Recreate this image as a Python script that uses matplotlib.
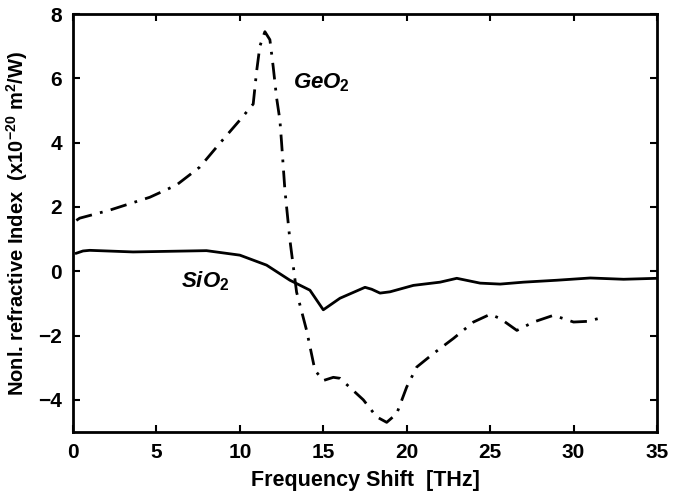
import matplotlib
matplotlib.use('AGG')
import matplotlib.pyplot as plt

# GeO2 (dash-dot)
geo2_x = [0.2, 0.4, 2.2, 4.6, 6.2, 7.6, 8.8, 10.0, 10.8, 11.0, 11.2, 11.5, 11.8, 12.0,
          12.2, 12.4, 12.5, 12.7, 13.0, 13.4, 14.0, 14.5, 15.0, 15.6, 16.0, 17.4, 18.2,
          18.8, 19.4, 20.0, 20.6, 21.6, 22.8, 24.0, 25.0, 25.6, 26.6, 27.6, 28.8, 30.0,
          30.8, 31.5]
geo2_y = [1.58, 1.65, 1.9, 2.3, 2.68, 3.24, 3.98, 4.7, 5.2, 6.2, 7.0, 7.45, 7.2, 6.35,
          5.4, 4.7, 4.0, 2.52, 0.97, -0.65, -1.84, -3.08, -3.4, -3.3, -3.33, -4.0, -4.53,
          -4.7, -4.43, -3.6, -2.98, -2.56, -2.09, -1.58, -1.34, -1.47, -1.84, -1.58, -1.37,
          -1.58, -1.56, -1.47]

# SiO2 (solid)
sio2_x = [0.2, 0.6, 1.0, 3.6, 8.0, 10.0, 11.6, 13.0, 14.2, 15.0, 16.0, 17.5, 17.9, 18.4,
          19.0, 20.4, 22.0, 23.0, 24.4, 25.6, 27.0, 29.0, 31.0, 33.0, 35.0]
sio2_y = [0.56, 0.63, 0.65, 0.6, 0.64, 0.5, 0.19, -0.28, -0.59, -1.2, -0.84, -0.5, -0.56,
          -0.68, -0.64, -0.44, -0.34, -0.22, -0.37, -0.4, -0.34, -0.28, -0.21, -0.25, -0.22]

plt.rcParams['font.family'] = ['Liberation Sans', 'DejaVu Sans']
plt.rcParams['mathtext.fontset'] = 'custom'
plt.rcParams['mathtext.rm'] = 'Liberation Sans:bold'
plt.rcParams['mathtext.it'] = 'Liberation Sans:bold:italic'
plt.rcParams['mathtext.bf'] = 'Liberation Sans:bold'

fig = plt.figure(figsize=(6.81, 4.97), dpi=100)
ax = fig.add_axes([73/681, 1-432/497, (657-73)/681, (432-14)/497])

ax.plot(sio2_x, sio2_y, color='black', lw=2)
ax.plot(geo2_x, geo2_y, color='black', lw=2, linestyle=(0, (6, 3, 1, 3)))

ax.set_xlim(0, 35)
ax.set_ylim(-5, 8)
ax.set_xticks([0, 5, 10, 15, 20, 25, 30, 35])
ax.set_yticks([-4, -2, 0, 2, 4, 6, 8])
ax.tick_params(direction='in', top=True, right=True, length=5, width=1.5,
               labelsize=15, pad=8)
for lab in ax.get_xticklabels() + ax.get_yticklabels():
    lab.set_fontweight('bold')
for sp in ax.spines.values():
    sp.set_linewidth(2)

ax.set_xlabel('Frequency Shift  [THz]', fontsize=15.5, fontweight='bold', labelpad=6)
ax.set_ylabel(r'Nonl. refractive Index  (x10$^{-20}$ m$^2$/W)', fontsize=14.5,
              fontweight='bold', labelpad=6)

ax.text(13.2, 5.7, r'$GeO_2$', fontsize=16, fontweight='bold', style='italic')
ax.text(6.5, -0.5, r'$SiO_2$', fontsize=16, fontweight='bold', style='italic')

plt.savefig('out.png', dpi=100)
